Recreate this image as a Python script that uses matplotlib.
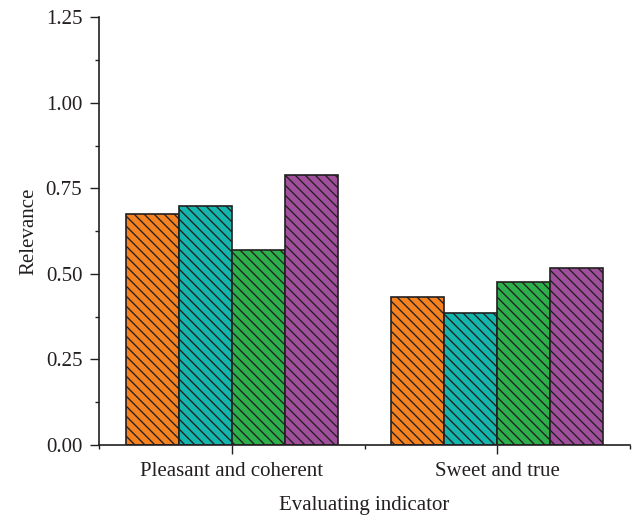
import numpy as np
import matplotlib
matplotlib.use("Agg")
import matplotlib.pyplot as plt

# values
categories = ["Pleasant and coherent", "Sweet and true"]
series1 = [0.674, 0.431]
series2 = [0.699, 0.385]
series3 = [0.570, 0.475]
series4 = [0.788, 0.516]
colors = ["#F58220", "#13B5AC", "#2DB04B", "#A04F9D"]
yticks = [0.00, 0.25, 0.50, 0.75, 1.00, 1.25]

# dpi 120 so the hatch spacing comes out near the reference (~10 px)
dpi = 120
s = 100.0 / dpi

plt.rcParams['font.family'] = ['Liberation Serif', 'DejaVu Serif']
plt.rcParams['hatch.linewidth'] = 0.8
plt.rcParams['hatch.color'] = '#1a1a1a'

txt = '#231F20'
fs = 15 * s
fig = plt.figure(figsize=(635.0 / dpi, 515.0 / dpi), dpi=dpi)
ax = fig.add_axes([0.1564, 0.1363, 0.8357, 0.8301])

x = np.arange(len(categories))
w = 0.2
allseries = [series1, series2, series3, series4]
for k, ser in enumerate(allseries):
    ax.bar(x + (k - 1.5) * w, ser, w, color=colors[k], edgecolor='#231F20',
           linewidth=1.2 * s, hatch='\\\\\\\\', zorder=2)

ax.set_xlim(-0.5, 1.5)
ax.set_ylim(0, 1.25)
ax.set_yticks(yticks)
ax.set_yticklabels(["{:.2f}".format(v) for v in yticks])
ax.set_yticks(np.arange(0.125, 1.25, 0.25), minor=True)
ax.set_xticks(x)
ax.set_xticklabels(categories)
ax.set_xticks([-0.5, 0.5, 1.5], minor=True)

for side in ['top', 'right']:
    ax.spines[side].set_visible(False)
for side in ['left', 'bottom']:
    ax.spines[side].set_color(txt)
    ax.spines[side].set_linewidth(1.2 * s)

ax.tick_params(which='major', direction='out', length=6.2 * s, width=1.0 * s,
               color=txt, labelcolor=txt, labelsize=fs, pad=6 * s)
ax.tick_params(which='minor', direction='out', length=3 * s, width=1.0 * s, color=txt)

ax.set_xlabel("Evaluating indicator", fontsize=fs, color=txt, labelpad=11 * s)
ax.set_ylabel("Relevance", fontsize=fs, color=txt, labelpad=5 * s)

plt.savefig("out.png", dpi=dpi)
